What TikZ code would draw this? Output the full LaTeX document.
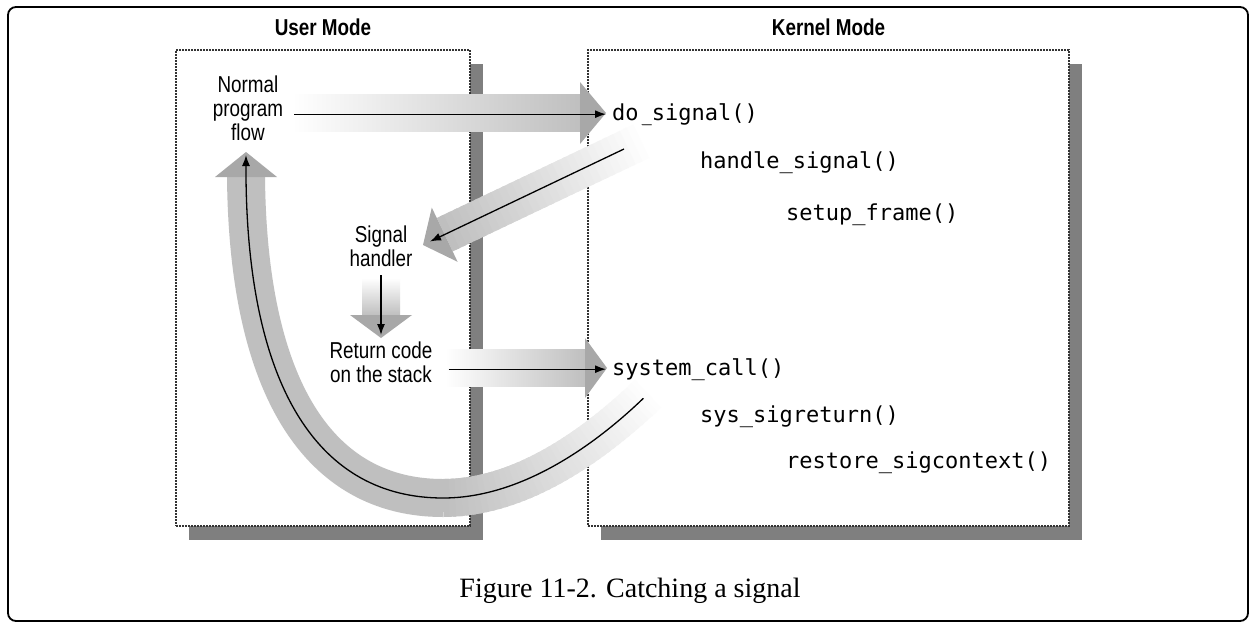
\documentclass[tikz,border=0pt]{standalone}
\usepackage{fontspec}
\setmainfont{Liberation Serif}
\newfontfamily\labelfont[FakeStretch=0.82]{Liberation Sans}
\newfontfamily\codefont{DejaVu Sans Mono}
\usetikzlibrary{arrows.meta, positioning, calc, shadows}

\begin{document}
\begin{tikzpicture}[
            x=1pt, y=-1pt,
            modebox/.style={
                rectangle,
                draw=black!80,
                line width=1.3pt,
                dash pattern=on 1.6pt off 1.4pt,
                fill=white,
                drop shadow={shadow xshift=13pt, shadow yshift=-14pt, fill=black, opacity=0.5}
            },
            modetitle/.style={font=\labelfont\bfseries\fontsize{23}{24}\selectfont, inner sep=0pt},
            flowtext/.style={font=\labelfont\fontsize{23}{24}\selectfont, align=center, inner sep=0pt, anchor=north},
            fncall/.style={font=\codefont\fontsize{22}{24}\selectfont, inner sep=0pt, anchor=base west},
            band/.style={line width=37pt},
            fathead/.style={fill=gray!68},
            flowarrow/.style={-{Latex[length=11pt, width=8pt]}, line width=1.3pt}
        ]
            \useasboundingbox (0,0) rectangle (1250,622);
            \draw[line width=1.8pt, rounded corners=8pt] (8,7) rectangle (1248,621);

            % the two modes
            \node[modebox, minimum width=294pt, minimum height=476pt] (user) at (323,288) {};
            \node[modebox, minimum width=481pt, minimum height=476pt] (kernel) at (828.5,288) {};
            \node[modetitle, above=13pt of user] (usertitle) {User Mode};
            \node[modetitle, above=13pt of kernel] (kerneltitle) {Kernel Mode};

            % user side
            \node[flowtext] (flow) at (248,76) {Normal\\program\\flow};
            \node[flowtext] (handler) at (381,226) {Signal\\handler};
            \node[flowtext] (retcode) at (381,342) {Return code\\on the stack};

            % kernel side
            \node[fncall] (dosig) at (612,120) {do\_signal()};
            \node[fncall] (handsig) at (700,168) {handle\_signal()};
            \node[fncall] (setup) at (786,220) {setup\_frame()};
            \node[fncall] (syscall) at (612,375) {system\_call()};
            \node[fncall] (sigret) at (700,422) {sys\_sigreturn()};
            \node[fncall] (restore) at (786,468) {restore\_sigcontext()};

            % wide grey arrows
            \coordinate (abase) at (580,113);
            \coordinate (bstart) at (648,138);
            \coordinate (bbase) at (444.7,234.7);
            \coordinate (cbase) at (381,315);
            \coordinate (dbase) at (585,368);
            \coordinate (e0) at (652,390);
            \coordinate (e1) at (600,440);
            \coordinate (e2) at (525,498);
            \coordinate (e3) at (443,498);
            \coordinate (f1) at (320,498);
            \coordinate (f2) at (248,390);
            \coordinate (f3) at (246,177);

            \shade[left color=white, right color=gray!50] (292,94.5) rectangle (abase |- 0,131.5);
            \fill[fathead] (abase) ++(0,-31) -- ++(26,31) -- ++(-26,31) -- cycle;

            \foreach \i in {0,...,29}{
                \pgfmathsetmacro\tone{50*\i/29}
                \draw[band, gray!\tone] ($(bstart)!\i/30!(bbase)$) -- ($(bstart)!{min(1,(\i+1.5)/30)}!(bbase)$);
            }
            \fill[fathead] ($(bbase)+(-12.9,-27.1)$) -- ($(bbase)+(-21.7,10.3)$) -- ($(bbase)+(12.9,27.1)$) -- cycle;

            \shade[top color=white, bottom color=gray!50] (362,278) rectangle (400,315);
            \fill[fathead] (cbase) ++(-31,0) -- ++(31,23) -- ++(31,-23) -- cycle;

            \shade[left color=white, right color=gray!50] (445,349.5) rectangle (dbase |- 0,386.5);
            \fill[fathead] (dbase) ++(0,-30) -- ++(22,30) -- ++(-22,30) -- cycle;

            \foreach \i in {0,...,39}{
                \pgfmathsetmacro\ta{\i/40}
                \pgfmathsetmacro\tb{min(1,(\i+1.6)/40)}
                \pgfmathsetmacro\tone{50*\i/39}
                \path (e0) .. controls (e1) and (e2) .. coordinate[pos=\ta] (ea) coordinate[pos=\tb] (eb) (e3);
                \draw[band, line width=38pt, gray!\tone] (ea) -- (eb);
            }
            \draw[band, line width=38pt, gray!50] (e3) .. controls (f1) and (f2) .. (f3);
            \fill[fathead] (f3) ++(-31,0) -- ++(31,-25) -- ++(31,25) -- cycle;

            % thin black arrows
            \coordinate (bfrom) at (624,149);
            \coordinate (bto) at (430,241.5);
            \coordinate (etip) at (246,155);
            \draw[flowarrow] ($(flow.east |- dosig.west)+(11,0)$) -- ([xshift=-6pt]dosig.west);
            \draw[flowarrow] (bfrom) -- (bto);
            \draw[flowarrow, shorten <=8pt, shorten >=7pt] (handler) -- (retcode);
            \draw[flowarrow] ($(retcode.east |- syscall.west)+(16,0)$) -- ([xshift=-6pt]syscall.west);
            \draw[flowarrow, shorten <=12pt] (e0) .. controls (e1) and (e2) .. (e3) .. controls (f1) and (f2) .. (f3) -- (etip);

            \node[font=\fontsize{28}{30}\selectfont, anchor=base] (caption) at (630,597) {Figure 11-2. Catching a signal};
        \end{tikzpicture}
\end{document}
